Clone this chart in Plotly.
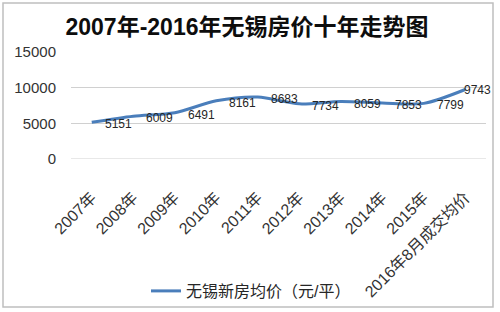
import plotly.graph_objects as go

categories = ["2007年", "2008年", "2009年", "2010年", "2011年", "2012年",
              "2013年", "2014年", "2015年", "2016年8月成交均价"]
prices = [5151, 6009, 6491, 8161, 8683, 7734, 8059, 7853, 7799, 9743]
series_name = "无锡新房均价（元/平）"
title_text = "2007年-2016年无锡房价十年走势图"
y_ticks = [0, 5000, 10000, 15000]
y_tick_labels = ["0", "5000", "10000", "15000"]

FONT = "Liberation Sans, Noto Sans CJK SC, sans-serif"
LINE_COLOR = "#4a7ebb"

fig = go.Figure()
fig.add_trace(go.Scatter(
    x=categories, y=prices, mode="lines", name=series_name,
    line=dict(color=LINE_COLOR, width=3, shape="spline", smoothing=0.8),
    hoverinfo="skip",
))

annotations = []
for i, (c, v) in enumerate(zip(categories, prices)):
    last = i == len(categories) - 1
    annotations.append(dict(
        x=c, y=v, xref="x", yref="y", text=str(v), showarrow=False,
        xanchor="left", yanchor="middle",
        xshift=-3 if last else 11, yshift=0 if last else -2,
        font=dict(family=FONT, size=12, color="#262626"),
    ))

fig.update_layout(
    width=500, height=312,
    margin=dict(l=71, r=14, t=52, b=153, autoexpand=False),
    paper_bgcolor="white", plot_bgcolor="white",
    title=dict(text="<b>" + title_text + "</b>", x=0.494, xanchor="center",
               y=1 - 27 / 312, yanchor="middle", yref="container",
               font=dict(family=FONT, size=23, color="#0d0d0d")),
    showlegend=True,
    legend=dict(orientation="h", xref="container", yref="container",
                x=146 / 500, xanchor="left", y=1 - 291 / 312,
                yanchor="middle", itemwidth=30,
                font=dict(family=FONT, size=16, color="#262626"),
                bgcolor="rgba(0,0,0,0)"),
    xaxis=dict(type="category", showgrid=False, showline=False, zeroline=False,
               automargin=False,
               tickangle=-45, ticks="outside", ticklen=22,
               tickcolor="rgba(0,0,0,0)",
               tickfont=dict(family=FONT, size=16, color="#333333"),
               range=[-0.5, len(categories) - 0.5]),
    yaxis=dict(range=[0, 15000], tickvals=y_ticks, ticktext=y_tick_labels,
               showgrid=True, automargin=False,
               gridcolor="#d0d0d0", gridwidth=1, zeroline=False, showline=False,
               ticklabelstandoff=14,
               tickfont=dict(family=FONT, size=15, color="#333333")),
    annotations=annotations,
    shapes=[dict(type="line", xref="paper", yref="y", x0=0, x1=1, y0=0, y1=0,
                 line=dict(color="#d0d0d0", width=1)),
            dict(type="rect", xref="paper", yref="paper",
                 x0=(3 - 71) / 415, x1=(493 - 71) / 415,
                 y0=(159 - 307) / 107, y1=(159 - 3) / 107,
                 line=dict(color="#bfbfbf", width=1.5))],
)

fig.write_html("out.html")
